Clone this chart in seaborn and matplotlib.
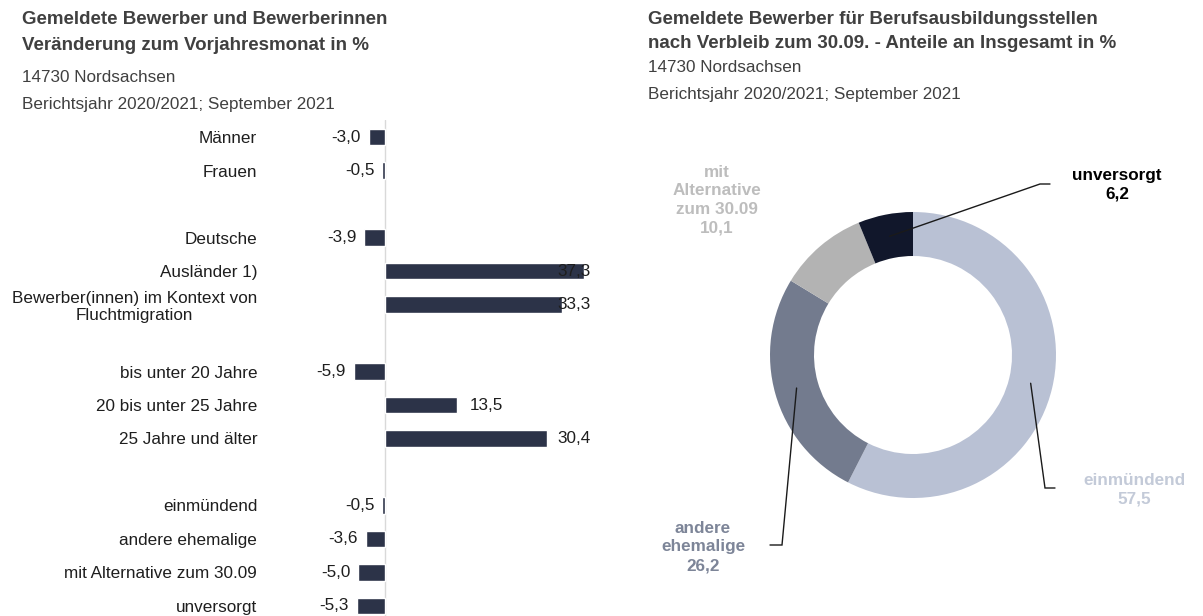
import numpy as np
import pandas as pd
import matplotlib
matplotlib.use("Agg")
import matplotlib.pyplot as plt
import seaborn as sns

# ---------------- data ----------------
group_people = ["Männer", "Frauen"]
group_origin = ["Deutsche", "Ausländer 1)", "Bewerber(innen) im Kontext von\nFluchtmigration"]
group_age = ["bis unter 20 Jahre", "20 bis unter 25 Jahre", "25 Jahre und älter"]
group_status = ["einmündend", "andere ehemalige", "mit Alternative zum 30.09", "unversorgt"]

values_people = [-3.0, -0.5]
values_origin = [-3.9, 37.3, 33.3]
values_age = [-5.9, 13.5, 30.4]
values_status = [-0.5, -3.6, -5.0, -5.3]

donut_labels = ["einmündend", "andere\nehemalige", "mit\nAlternative\nzum 30.09", "unversorgt"]
donut_values = [57.5, 26.2, 10.1, 6.2]

left_title = ["Gemeldete Bewerber und Bewerberinnen", "Veränderung zum Vorjahresmonat in %"]
right_title = ["Gemeldete Bewerber für Berufsausbildungsstellen",
               "nach Verbleib zum 30.09. - Anteile an Insgesamt in %"]
region = "14730 Nordsachsen"
period = "Berichtsjahr 2020/2021; September 2021"

# ---------------- styles ----------------
BAR_COLOR = "#2C3348"
DONUT_COLORS = ["#B9C1D4", "#737B8E", "#B3B3B3", "#11172B"]
DONUT_TEXT_COLORS = ["#C3CAD8", "#7D8598", "#BDBDBD", "#000000"]
TITLE_COLOR = "#404040"
TEXT_COLOR = "#1E1E1E"

sns.set_style("white")
plt.rcParams["font.family"] = ["Liberation Sans", "DejaVu Sans"]

W, H = 1203, 616
fig = plt.figure(figsize=(W / 100, H / 100), dpi=100)


def fx(px):
    return px / W


def fy(py):
    return 1 - py / H


def fmt(v):
    return f"{v:.1f}".replace(".", ",")


# ---------------- titles ----------------
fig.text(fx(22), fy(20), left_title[0], fontsize=13.5, fontweight="bold", color=TITLE_COLOR, va="center")
fig.text(fx(22), fy(45), left_title[1], fontsize=13.5, fontweight="bold", color=TITLE_COLOR, va="center")
fig.text(fx(22), fy(78), region, fontsize=12.3, color=TITLE_COLOR, va="center")
fig.text(fx(22), fy(104), period, fontsize=12.3, color=TITLE_COLOR, va="center")

fig.text(fx(648), fy(20), right_title[0], fontsize=13.5, fontweight="bold", color=TITLE_COLOR, va="center")
fig.text(fx(648), fy(44), right_title[1], fontsize=13.5, fontweight="bold", color=TITLE_COLOR, va="center")
fig.text(fx(648), fy(67), region, fontsize=12.3, color=TITLE_COLOR, va="center")
fig.text(fx(648), fy(94), period, fontsize=12.3, color=TITLE_COLOR, va="center")

# ---------------- bar chart ----------------
groups = [group_people, group_origin, group_age, group_status]
group_vals = [values_people, values_origin, values_age, values_status]
cats, vals, order = [], [], []
for gi, (g, v) in enumerate(zip(groups, group_vals)):
    cats += g
    vals += v
    order += g
    if gi < len(groups) - 1:
        order.append(" " * (gi + 1))
df = pd.DataFrame({"Kategorie": cats, "Wert": vals})

ax = fig.add_axes([fx(262), 0, fx(592) - fx(262), 1 - 120 / H])
sns.barplot(data=df, x="Wert", y="Kategorie", order=order, color=BAR_COLOR,
            saturation=1, width=0.5, orient="h", ax=ax, zorder=3)
ax.axvline(0, color="#D9D9D9", lw=1, zorder=1)
ppu = 5.33
ax.set_xlim((262 - 385) / ppu, (592 - 385) / ppu)
ax.set_ylim(14.3, -0.51)
for s in ax.spines.values():
    s.set_visible(False)
ax.set_xticks([])
ax.set_xlabel("")
ax.set_ylabel("")
ax.tick_params(axis="y", left=False, pad=0, labelsize=12.3, labelcolor=TEXT_COLOR)
for lbl in ax.get_yticklabels():
    lbl.set_multialignment("center")

xmax_label = (591 - 385) / ppu
for c, v in zip(cats, vals):
    y = order.index(c)
    if v >= 0:
        ax.text(min(v + 8.6, xmax_label), y, fmt(v), ha="right", va="center",
                fontsize=12.3, color=TEXT_COLOR, zorder=5)
    else:
        ax.text(v - 1.5, y, fmt(v), ha="right", va="center",
                fontsize=12.3, color=TEXT_COLOR, zorder=5)

# ---------------- donut ----------------
R_PX = 143.0
cx, cy = 913, 355
ax2 = fig.add_axes([fx(640), 0, fx(1203) - fx(640), 1 - 120 / H])
wedges, _ = ax2.pie(donut_values, radius=1, startangle=90, counterclock=False,
                    colors=DONUT_COLORS,
                    wedgeprops=dict(width=44 / R_PX, edgecolor="none", linewidth=0))
ax2.set_xlim((640 - cx) / R_PX, (1203 - cx) / R_PX)
ax2.set_ylim((cy - 616) / R_PX, (cy - 120) / R_PX)
ax2.set_aspect("auto")
ax2.axis("off")


def u(px, py):
    return ((px - cx) / R_PX, (cy - py) / R_PX)


mid_r = 1 - 22 / R_PX
# label placement: (elbow point, end point, text center) in pixel space; None => no leader line
placements = [
    (u(1045, 488), u(1055, 488), u(1134, 490)),
    (u(782, 545), u(770, 545), u(703, 547)),
    (None, None, u(717, 200)),
    (u(1040, 184), u(1050, 184), u(1117, 185)),
]
for w, lab, val, tcol, (elbow, end, tpos) in zip(wedges, donut_labels, donut_values,
                                                 DONUT_TEXT_COLORS, placements):
    ang = np.deg2rad((w.theta1 + w.theta2) / 2)
    anchor = (mid_r * np.cos(ang), mid_r * np.sin(ang))
    if elbow is not None:
        ax2.plot([anchor[0], elbow[0], end[0]], [anchor[1], elbow[1], end[1]],
                 color="#1A1A1A", lw=1.0, clip_on=False, solid_joinstyle="miter")
    ax2.text(tpos[0], tpos[1], f"{lab}\n{fmt(val)}", ha="center", va="center",
             fontsize=12.3, fontweight="bold", color=tcol, linespacing=1.3, clip_on=False)

fig.savefig("out.png", dpi=100)
